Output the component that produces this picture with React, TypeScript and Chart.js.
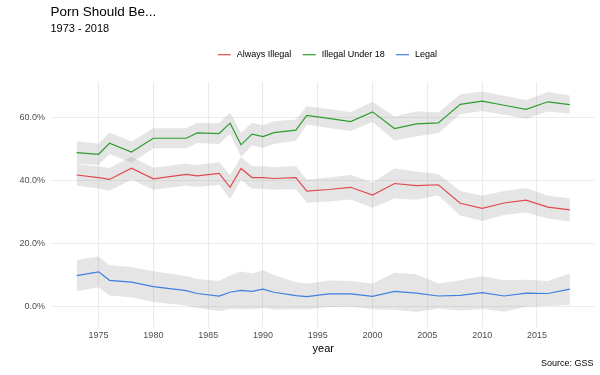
import React, { useEffect, useRef } from "react";
import { Chart, registerables } from "chart.js";

Chart.register(...registerables);

const years = [1973, 1975, 1976, 1978, 1980, 1983, 1984, 1986, 1987, 1988, 1989, 1990, 1991, 1993, 1994, 1996, 1998, 2000, 2002, 2004, 2006, 2008, 2010, 2012, 2014, 2016, 2018];

const alwaysIllegal = [41.8, 41.0, 40.4, 44.0, 40.6, 42.0, 41.5, 42.3, 37.9, 43.9, 41.0, 41.0, 40.7, 41.0, 36.7, 37.2, 37.9, 35.4, 39.1, 38.4, 38.7, 32.8, 31.2, 32.9, 33.8, 31.6, 30.7];
const illegalUnder18 = [48.9, 48.4, 51.9, 49.1, 53.5, 53.5, 55.2, 55.0, 58.3, 51.4, 54.8, 54.0, 55.3, 56.1, 60.8, 59.8, 58.8, 61.9, 56.6, 58.1, 58.4, 64.3, 65.3, 64.0, 62.7, 65.1, 64.2];
const legal = [9.8, 11.0, 8.3, 7.7, 6.3, 5.0, 4.1, 3.3, 4.5, 5.1, 4.8, 5.5, 4.5, 3.4, 3.1, 4.0, 4.0, 3.2, 4.8, 4.2, 3.3, 3.5, 4.4, 3.3, 4.2, 4.1, 5.5];

// half-widths of the grey confidence ribbons
const alwaysIllegalMargin = [3.4, 3.5, 3.6, 3.6, 3.5, 3.5, 3.5, 3.6, 3.8, 3.6, 3.6, 3.6, 3.6, 3.7, 3.7, 3.8, 3.9, 4.0, 4.8, 4.5, 3.4, 3.9, 4.0, 3.8, 3.9, 3.6, 3.7];
const illegalUnder18Margin = [3.6, 3.4, 3.4, 3.4, 3.2, 3.2, 3.2, 3.3, 3.4, 3.8, 3.6, 3.6, 3.6, 3.4, 2.9, 3.0, 3.0, 3.2, 3.8, 4.0, 3.3, 3.2, 3.1, 3.0, 3.0, 3.1, 2.9];
const legalMargin = [5.0, 4.9, 4.8, 4.8, 4.9, 4.7, 4.6, 4.8, 5.3, 6.0, 5.7, 6.0, 5.5, 4.3, 4.1, 4.2, 4.1, 4.1, 5.9, 6.0, 4.0, 4.8, 5.2, 5.0, 4.3, 4.0, 5.0];

const seriesNames = ["Always Illegal", "Illegal Under 18", "Legal"];
const seriesColors = ["#E04A4F", "#2E9E2E", "#3F7FE0"];
const xTicks = [1975, 1980, 1985, 1990, 1995, 2000, 2005, 2010, 2015];
const yTicks = [0, 20, 40, 60];

const titleText = "Porn Should Be...";
const subtitleText = "1973 - 2018";
const xAxisTitle = "year";
const sourceText = "Source: GSS";

const FONT = "'Liberation Sans', Arial, sans-serif";

export default function App() {
  const canvasRef = useRef<HTMLCanvasElement | null>(null);

  useEffect(() => {
    const canvas = canvasRef.current;
    if (!canvas) return;

    const values = [alwaysIllegal, illegalUnder18, legal];
    const margins = [alwaysIllegalMargin, illegalUnder18Margin, legalMargin];

    const lineSets: any[] = values.map((vals, i) => ({
      label: seriesNames[i],
      data: years.map((y, k) => ({ x: y, y: vals[k] })),
      borderColor: seriesColors[i],
      backgroundColor: seriesColors[i],
      borderWidth: 1.2,
      pointRadius: 0,
      tension: 0,
      fill: false,
      order: 0,
    }));

    const bandSets: any[] = [];
    values.forEach((vals, i) => {
      const upperIndex = 3 + bandSets.length;
      bandSets.push({
        label: "upper" + i,
        data: years.map((y, k) => ({ x: y, y: vals[k] + margins[i][k] })),
        borderWidth: 0,
        borderColor: "rgba(0,0,0,0)",
        pointRadius: 0,
        fill: false,
        order: 1,
      });
      bandSets.push({
        label: "lower" + i,
        data: years.map((y, k) => ({ x: y, y: vals[k] - margins[i][k] })),
        borderWidth: 0,
        borderColor: "rgba(0,0,0,0)",
        backgroundColor: "rgba(153,153,153,0.25)",
        pointRadius: 0,
        fill: upperIndex,
        order: 1,
      });
    });

    const decor = {
      id: "decor",
      afterDraw(chart: any) {
        const ctx = chart.ctx;
        const area = chart.chartArea;
        ctx.save();
        ctx.textBaseline = "alphabetic";
        ctx.fillStyle = "#000";
        ctx.textAlign = "left";
        ctx.font = `13.5px ${FONT}`;
        ctx.fillText(titleText, 50.5, 16);
        ctx.font = `11px ${FONT}`;
        ctx.fillText(subtitleText, 50.5, 32.3);

        // legend
        const legendY = 54.7;
        const textX = [236.7, 321.7, 415];
        ctx.font = `9px ${FONT}`;
        ctx.textBaseline = "middle";
        seriesNames.forEach((name, i) => {
          ctx.strokeStyle = seriesColors[i];
          ctx.lineWidth = 1.2;
          ctx.beginPath();
          ctx.moveTo(textX[i] - 19, legendY);
          ctx.lineTo(textX[i] - 6, legendY);
          ctx.stroke();
          ctx.fillStyle = "#000";
          ctx.fillText(name, textX[i], legendY);
        });

        // x axis title
        ctx.textAlign = "center";
        ctx.font = `11px ${FONT}`;
        ctx.fillText(xAxisTitle, (area.left + area.right) / 2, 348.5);

        // caption
        ctx.textAlign = "right";
        ctx.font = `9px ${FONT}`;
        ctx.fillText(sourceText, 593.5, 363.3);
        ctx.restore();
      },
    };

    const chart = new Chart(canvas, {
      type: "line",
      data: { datasets: [...lineSets, ...bandSets] },
      options: {
        animation: false,
        responsive: false,
        devicePixelRatio: 1,
        parsing: true,
        layout: { padding: { top: 82, right: 5.5, left: 0, bottom: 0 } },
        plugins: {
          legend: { display: false },
          title: { display: false },
          tooltip: { enabled: false },
        },
        scales: {
          x: {
            type: "linear",
            min: 1970.75,
            max: 2020.25,
            border: { display: false },
            grid: { color: "#EBEBEB", lineWidth: 1.1, drawTicks: false },
            ticks: {
              color: "#4D4D4D",
              font: { family: FONT, size: 9 },
              padding: 4,
              maxRotation: 0,
              autoSkip: false,
              callback: (v: any) => String(v),
            },
            afterBuildTicks: (s: any) => {
              s.ticks = xTicks.map((v) => ({ value: v }));
            },
            afterFit: (s: any) => {
              s.height = 48.5;
            },
          },
          y: {
            type: "linear",
            min: -6.4,
            max: 71.4,
            border: { display: false },
            grid: { color: "#EBEBEB", lineWidth: 1.1, drawTicks: false },
            ticks: {
              color: "#4D4D4D",
              font: { family: FONT, size: 9 },
              padding: 7,
              autoSkip: false,
              callback: (v: any) => Number(v).toFixed(1) + "%",
            },
            afterBuildTicks: (s: any) => {
              s.ticks = yTicks.map((v) => ({ value: v }));
            },
            afterFit: (s: any) => {
              s.width = 52;
            },
          },
        },
      } as any,
      plugins: [decor],
    });

    return () => chart.destroy();
  }, []);

  return (
    <div style={{ position: "absolute", left: 0, top: 0, width: 600, height: 375, background: "#fff" }}>
      <canvas ref={canvasRef} width={600} height={375} style={{ display: "block" }} />
    </div>
  );
}
